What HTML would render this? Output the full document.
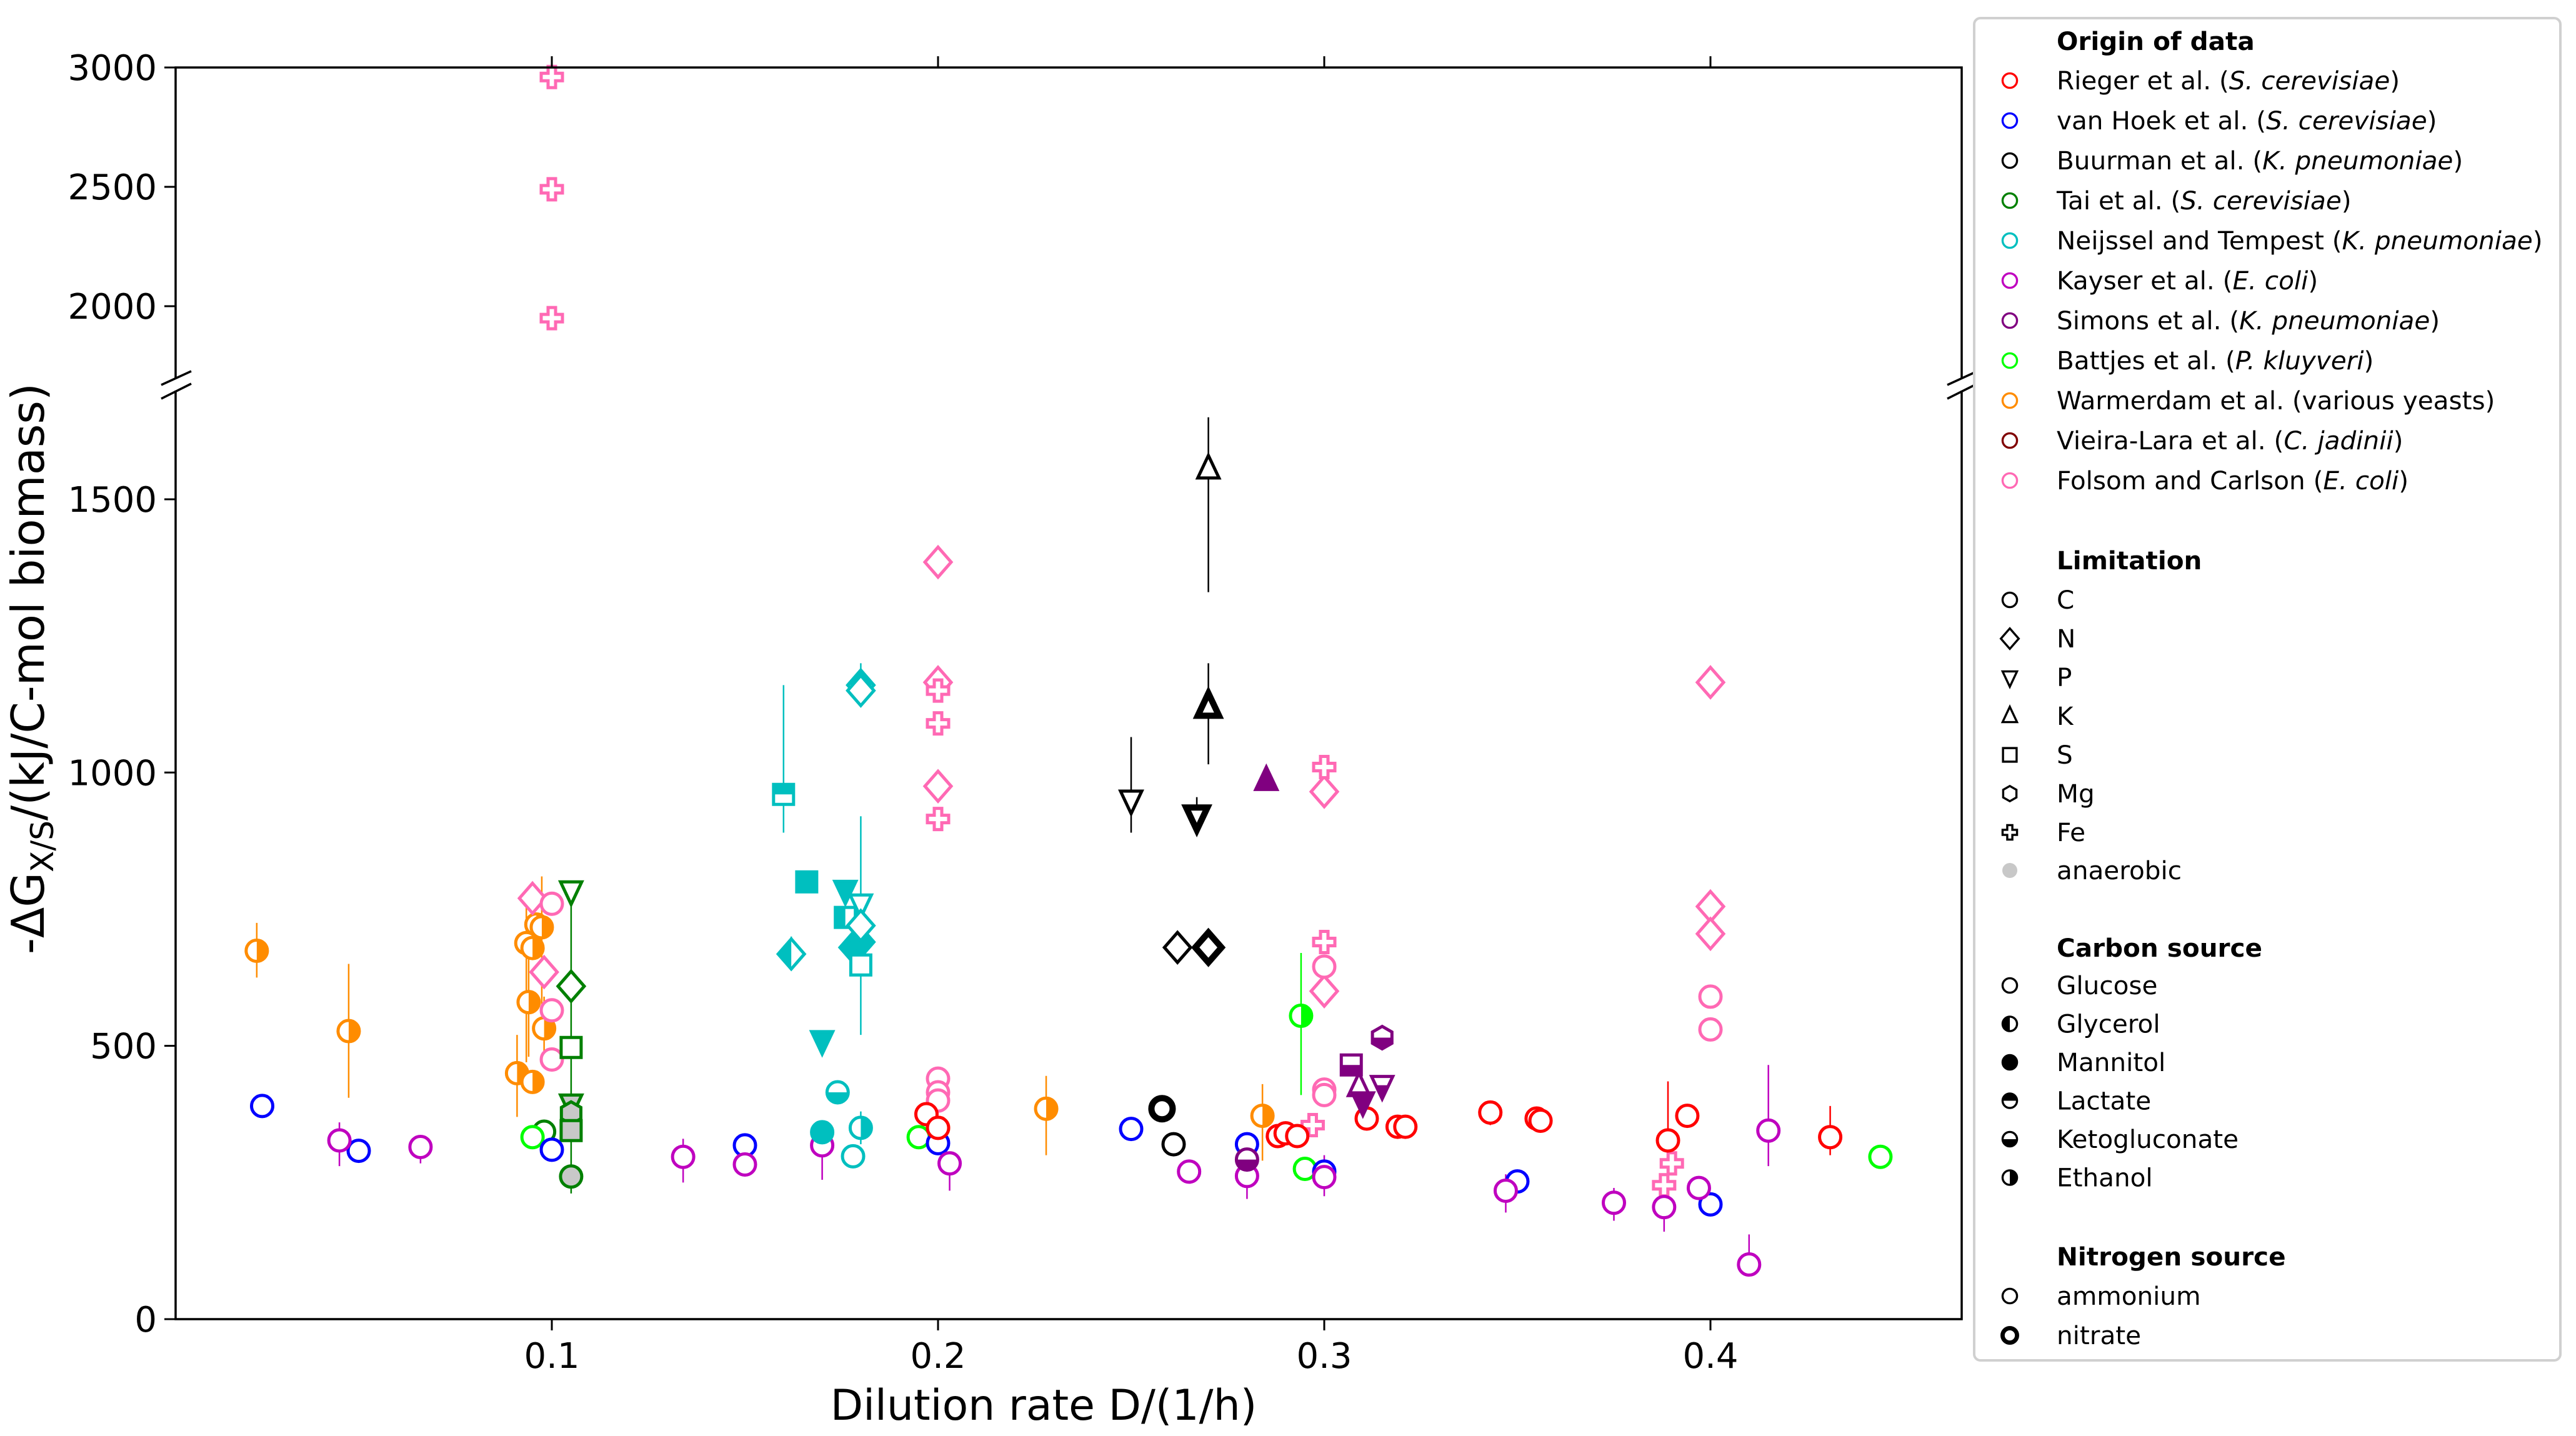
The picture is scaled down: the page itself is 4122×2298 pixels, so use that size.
<!DOCTYPE html>
<html><head><meta charset="utf-8">
<style>
html,body{margin:0;padding:0;background:#fff;}
svg{display:block;font-family:"DejaVu Sans","Liberation Sans",sans-serif;}
</style></head>
<body>
<svg id="chart" width="4122" height="2298" viewBox="0 0 4122 2298" xmlns="http://www.w3.org/2000/svg">
<rect width="4122" height="2298" fill="#fff"/>
<g id="plot"></g>
<g id="axes"></g>
<g id="legend"></g>
</svg>
<script>
// ---------- data ----------
const seriesNames = ["Rieger et al. (S. cerevisiae)","van Hoek et al. (S. cerevisiae)","Buurman et al. (K. pneumoniae)","Tai et al. (S. cerevisiae)","Neijssel and Tempest (K. pneumoniae)","Kayser et al. (E. coli)","Simons et al. (K. pneumoniae)","Battjes et al. (P. kluyveri)","Warmerdam et al. (various yeasts)","Vieira-Lara et al. (C. jadinii)","Folsom and Carlson (E. coli)"];
const seriesColors = ["#ff0000","#0000ff","#000000","#008000","#00bfbf","#bf00bf","#800080","#00ff00","#ff8c00","#800000","#ff69b4"];
const xTicks = [0.1,0.2,0.3,0.4];
const yTicksLower = [0,500,1000,1500];
const yTicksUpper = [2000,2500,3000];
// per point arrays
const pointD = [
 .0236,.0474,.096,.0974,.0934,.095,.094,.098,.091,.095,.228,.284,.2,
 .095,.098,.2,.2,.2,.3,.3,.4,.4,.4,
 .1,.1,.1,.2,.2,.2,.3,.3,.3,.4,.4,
 .1,.1,.1,.2,.2,.2,.3,.3,.297,.39,.388,
 .105,.105,.105,.105,.105,.105,.105,.098,
 .095,.195,.295,.294,.444,
 .025,.05,.1,.15,.2,.25,.28,.3,.35,.4,
 .045,.066,.134,.15,.17,.203,.265,.28,.3,.347,.375,.388,.397,.41,.415,
 .197,.2,.288,.29,.293,.311,.319,.321,.343,.355,.356,.389,.394,.431,
 .25,.267,.27,.27,.262,.27,.258,.261,
 .285,.28,.307,.315,.309,.31,.315,
 .16,.166,.176,.18,.176,.162,.178,.18,.18,.18,.17,.18,.18,.174,.17,.18,.178];
const pointG = [
 674,527,722,717,688,679,580,532,450,434,385,372,350,
 770,635,1385,1165,975,965,600,1165,755,705,
 760,565,475,440,415,400,645,420,410,590,530,
 2960,2490,1950,1150,1090,915,1010,690,355,285,245,
 784,609,497,394,377,345,261,343,
 333,333,275,555,297,
 390,308,310,318,322,348,320,270,252,210,
 327,315,297,283,318,285,270,262,260,235,213,205,240,100,345,
 375,350,335,340,335,367,352,352,378,367,363,327,372,333,
 950,920,1555,1120,680,680,385,320,
 985,292,465,515,425,398,428,
 960,800,785,760,735,668,680,690,720,648,510,1160,1150,415,342,350,298];
const pointErrLo = [
 625,405,0,560,470,0,480,470,370,0,300,290,0,
 0,0,0,0,0,0,0,0,0,0,
 0,0,0,0,0,0,0,0,0,0,0,
 0,0,0,0,0,0,0,0,0,0,0,
 230,0,0,0,0,0,0,0,
 0,0,0,410,0,
 0,0,0,0,0,0,0,0,0,0,
 280,285,250,265,255,235,0,220,225,195,180,160,0,100,280,
 0,0,0,0,0,0,0,0,355,0,0,300,0,300,
 890,920,1330,1015,0,0,0,0,
 0,0,0,0,0,0,0,
 890,0,0,0,0,640,0,0,0,520,0,1140,0,0,300,320,0];
const pointErrHi = [
 725,650,0,810,760,0,710,590,520,0,445,430,0,
 0,0,0,0,0,0,0,0,0,0,
 0,0,0,0,0,0,0,0,0,0,0,
 0,0,0,0,0,0,0,0,0,0,0,
 800,0,0,0,0,0,0,0,
 0,0,0,670,0,
 0,0,0,0,0,0,0,0,0,0,
 360,335,330,300,350,300,0,300,300,265,240,240,0,155,465,
 0,0,0,0,0,0,0,0,380,0,0,435,0,390,
 1065,955,1650,1200,0,0,0,0,
 0,0,0,0,0,0,0,
 1160,0,0,0,0,700,0,0,0,920,0,1200,0,0,360,380,0];
const pointSeries = [
 8,8,8,8,8,8,8,8,8,8,8,8,8,
 10,10,10,10,10,10,10,10,10,10,
 10,10,10,10,10,10,10,10,10,10,10,
 10,10,10,10,10,10,10,10,10,10,10,
 3,3,3,3,3,3,3,3,
 7,7,7,7,7,
 1,1,1,1,1,1,1,1,1,1,
 5,5,5,5,5,5,5,5,5,5,5,5,5,5,5,
 0,0,0,0,0,0,0,0,0,0,0,0,0,0,
 2,2,2,2,2,2,2,2,
 6,6,6,6,6,6,6,
 4,4,4,4,4,4,4,4,4,4,4,4,4,4,4,4,4];
const pointShape = [
 "o","o","o","o","o","o","o","o","o","o","o","o","o",
 "D","D","D","D","D","D","D","D","D","D",
 "o","o","o","o","o","o","o","o","o","o","o",
 "P","P","P","P","P","P","P","P","P","P","P",
 "v","D","s","v","h","s","o","o",
 "o","o","o","o","o",
 "o","o","o","o","o","o","o","o","o","o",
 "o","o","o","o","o","o","o","o","o","o","o","o","o","o","o",
 "o","o","o","o","o","o","o","o","o","o","o","o","o","o",
 "v","v","^","^","D","D","o","o",
 "^","o","s","h","^","v","v",
 "s","s","v","v","s","D","D","D","D","s","v","D","D","o","o","o","o"];
const pointFill = [
 "right","right","right","right","none","right","right","right","right","right","right","right","none",
 "none","none","none","none","none","none","none","none","none","none",
 "none","none","none","none","none","none","none","none","none","none","none",
 "none","none","none","none","none","none","none","none","none","none","none",
 "none","none","none","gray","gray","gray","gray","none",
 "none","none","none","right","none",
 "none","none","none","none","none","none","none","none","none","none",
 "none","none","none","none","none","none","none","none","none","none","none","none","none","none","none",
 "none","none","none","none","none","none","none","none","none","none","none","none","none","none",
 "none","none","none","none","none","none","none","none",
 "full","bottom","bottom","bottom","none","full","bottom",
 "top","full","full","none","left","left","full","full","none","none","full","top","none","bottom","full","right","none"];
const pointBold = [
 0,0,0,0,0,0,0,0,0,0,0,0,0,
 0,0,0,0,0,0,0,0,0,0,
 0,0,0,0,0,0,0,0,0,0,0,
 0,0,0,0,0,0,0,0,0,0,0,
 0,0,0,0,0,0,0,0,
 0,0,0,0,0,
 0,0,0,0,0,0,0,0,0,0,
 0,0,0,0,0,0,0,0,0,0,0,0,0,0,0,
 0,0,0,0,0,0,0,0,0,0,0,0,0,0,
 0,1,0,1,0,1,1,0,
 0,0,0,0,0,0,0,
 0,0,0,0,0,0,0,0,0,0,0,0,0,0,0,0,0];

// ---------- geometry ----------
const NS="http://www.w3.org/2000/svg";
const X0=265, XPER=6180;
const L_LEFT=281, L_RIGHT=3139;
const Y_BOT=2111, LOWER_K=0.8747;
const Y_TOP=108, UPPER_K=0.382;
function xS(d){return X0+d*XPER;}
function yS(g){return g>=1800 ? Y_TOP+(3000-g)*UPPER_K : Y_BOT-g*LOWER_K;}
function mk(tag,attrs,parent){const e=document.createElementNS(NS,tag);for(const k in attrs)e.setAttribute(k,attrs[k]);if(parent)parent.appendChild(e);return e;}

function shapePath(s,x,y,k){
  k=k||1;
  if(s==="o"){const r=17*k;return `M${x-r},${y} a${r},${r} 0 1,0 ${2*r},0 a${r},${r} 0 1,0 ${-2*r},0 Z`;}
  if(s==="D"){const w=21*k,h=24*k;return `M${x},${y-h} L${x+w},${y} L${x},${y+h} L${x-w},${y} Z`;}
  if(s==="v"){const w=17*k;return `M${x-w},${y-14*k} L${x+w},${y-14*k} L${x},${y+22*k} Z`;}
  if(s==="^"){const w=17*k;return `M${x-w},${y+14*k} L${x+w},${y+14*k} L${x},${y-22*k} Z`;}
  if(s==="s"){const h=16*k;return `M${x-h},${y-h} L${x+h},${y-h} L${x+h},${y+h} L${x-h},${y+h} Z`;}
  if(s==="h"){const r=18*k;let d="";for(let i=0;i<6;i++){const a=Math.PI/180*(90+60*i);d+=(i?"L":"M")+(x+r*Math.cos(a)).toFixed(1)+","+(y-r*Math.sin(a)).toFixed(1);}return d+"Z";}
  if(s==="P"){const a=6*k,b=17*k;return `M${x-a},${y-b} L${x+a},${y-b} L${x+a},${y-a} L${x+b},${y-a} L${x+b},${y+a} L${x+a},${y+a} L${x+a},${y+b} L${x-a},${y+b} L${x-a},${y+a} L${x-b},${y+a} L${x-b},${y-a} L${x-a},${y-a} Z`;}
}
let clipId=0;
function drawMarker(parent,s,x,y,color,fill,bold,k,name){
  k=k||1;
  const g=mk("g",{},parent);
  
  
  const d=shapePath(s,x,y,k);
  const sw=(bold?10:5)*k;
  if(fill==="gray"){mk("path",{d:d,fill:"#c8c8c8",stroke:color,"stroke-width":sw},g);return;}
  if(fill==="full"){mk("path",{d:d,fill:color,stroke:color,"stroke-width":sw},g);return;}
  mk("path",{d:d,fill:"#fff",stroke:"none"},g);
  if(fill!=="none"){
    const id="c"+(clipId++);
    const cp=mk("clipPath",{id:id},g);
    const R=40*k;let r;
    if(fill==="left")r={x:x-R,y:y-R,width:R,height:2*R};
    if(fill==="right")r={x:x,y:y-R,width:R,height:2*R};
    if(fill==="top")r={x:x-R,y:y-R,width:2*R,height:R};
    if(fill==="bottom")r={x:x-R,y:y,width:2*R,height:R};
    mk("rect",r,cp);
    mk("path",{d:d,fill:color,"clip-path":`url(#${id})`},g);
  }
  mk("path",{d:d,fill:"none",stroke:color,"stroke-width":sw},g);
}

// ---------- plot ----------
const plot=document.getElementById("plot");
for(let i=0;i<pointD.length;i++){
  if(pointErrHi[i]>0){
    const l=mk("line",{x1:xS(pointD[i]),x2:xS(pointD[i]),y1:yS(pointErrLo[i]),y2:yS(pointErrHi[i]),stroke:seriesColors[pointSeries[i]],"stroke-width":2.5},plot);
    
    
  }
}
for(let i=0;i<pointD.length;i++){
  drawMarker(plot,pointShape[i],xS(pointD[i]),yS(pointG[i]),seriesColors[pointSeries[i]],pointFill[i],pointBold[i],1,"data-point");
}

// ---------- axes ----------
const ax=document.getElementById("axes");
const st={stroke:"#000","stroke-width":3.5,fill:"none"};
mk("path",Object.assign({d:`M${L_LEFT},605 L${L_LEFT},${Y_TOP} L${L_RIGHT},${Y_TOP} L${L_RIGHT},605`},st),ax);
mk("path",Object.assign({d:`M${L_LEFT},625 L${L_LEFT},${Y_BOT} L${L_RIGHT},${Y_BOT} L${L_RIGHT},625`},st),ax);
for(const bx of [L_LEFT,L_RIGHT]){
  mk("line",{x1:bx-23,y1:616,x2:bx+25,y2:594,stroke:"#000","stroke-width":3.5},ax);
  mk("line",{x1:bx-23,y1:638,x2:bx+25,y2:614,stroke:"#000","stroke-width":3.5},ax);
}
const FS=56;
for(const t of xTicks){
  const x=xS(t);
  mk("line",{x1:x,x2:x,y1:Y_BOT,y2:Y_BOT+18,stroke:"#000","stroke-width":3},ax);
  mk("line",{x1:x,x2:x,y1:Y_TOP,y2:Y_TOP-18,stroke:"#000","stroke-width":3},ax);
  const tx=mk("text",{x:x,y:Y_BOT+78,"font-size":FS,"text-anchor":"middle"},ax);
  tx.textContent=String(t);
  
  
}
for(const t of yTicksLower.concat(yTicksUpper)){
  const y=yS(t);
  mk("line",{x1:L_LEFT,x2:L_LEFT-18,y1:y,y2:y,stroke:"#000","stroke-width":3},ax);
  const tx=mk("text",{x:L_LEFT-30,y:y+20,"font-size":FS,"text-anchor":"end"},ax);
  tx.textContent=String(t);
  
  
}
</script>
<script>
(function(){
const ax=document.getElementById("axes");
const NS="http://www.w3.org/2000/svg";
const xl=document.createElementNS(NS,"text");
xl.setAttribute("x","1670");xl.setAttribute("y","2272");xl.setAttribute("font-size","68");xl.setAttribute("text-anchor","middle");
xl.textContent="Dilution rate D/(1/h)";


ax.appendChild(xl);
const yl=document.createElementNS(NS,"text");
yl.setAttribute("transform","translate(70,1070) rotate(-90)");yl.setAttribute("font-size","72");yl.setAttribute("text-anchor","middle");
yl.innerHTML='-ΔG<tspan font-size="50" dy="15">X/S</tspan><tspan dy="-15">/(kJ/C-mol biomass)</tspan>';


ax.appendChild(yl);
})();
</script>
<script>
(function(){
const lg=document.getElementById("legend");
const NS="http://www.w3.org/2000/svg";
function mk(tag,attrs,parent){const e=document.createElementNS(NS,tag);for(const k in attrs)e.setAttribute(k,attrs[k]);parent.appendChild(e);return e;}
mk("rect",{x:3159,y:29,width:938,height:2148,rx:10,fill:"#fff",stroke:"#d0d0d0","stroke-width":4},lg);
const TX=3291, MX=3216, F=40.5;
function txt(y,html,bold,name){const t=mk("text",{x:TX,y:y+14,"font-size":F,"font-weight":bold?"bold":"normal"},lg);t.innerHTML=html;return t;}
txt(66,"Origin of data",true,"legend-title-origin");
const labels=['Rieger et al. (<tspan font-style="italic">S. cerevisiae</tspan>)','van Hoek et al. (<tspan font-style="italic">S. cerevisiae</tspan>)','Buurman et al. (<tspan font-style="italic">K. pneumoniae</tspan>)','Tai et al. (<tspan font-style="italic">S. cerevisiae</tspan>)','Neijssel and Tempest (<tspan font-style="italic">K. pneumoniae</tspan>)','Kayser et al. (<tspan font-style="italic">E. coli</tspan>)','Simons et al. (<tspan font-style="italic">K. pneumoniae</tspan>)','Battjes et al. (<tspan font-style="italic">P. kluyveri</tspan>)','Warmerdam et al. (various yeasts)','Vieira-Lara et al. (<tspan font-style="italic">C. jadinii</tspan>)','Folsom and Carlson (<tspan font-style="italic">E. coli</tspan>)'];
for(let i=0;i<labels.length;i++){
  const y=129+64*i;
  drawMarker(lg,"o",MX,y,seriesColors[i],"none",0,0.68,"legend-marker");
  txt(y,labels[i],false,"legend-entry");
}
txt(897,"Limitation",true,"legend-title-limitation");
const lim=[["o","C"],["D","N"],["v","P"],["^","K"],["s","S"],["h","Mg"],["P","Fe"]];
lim.forEach((r,i)=>{const y=960+62*i;drawMarker(lg,r[0],MX,y,"#000","none",0,0.68,"legend-marker");txt(y,r[1],false,"legend-entry");});
const an=mk("circle",{cx:MX,cy:1393,r:12,fill:"#c8c8c8"},lg);
txt(1393,"anaerobic",false,"legend-entry");
txt(1517,"Carbon source",true,"legend-title-carbon");
const cs=[["none","Glucose"],["left","Glycerol"],["full","Mannitol"],["top","Lactate"],["bottom","Ketogluconate"],["right","Ethanol"]];
cs.forEach((r,i)=>{const y=1577+61.5*i;drawMarker(lg,"o",MX,y,"#000",r[0],0,0.68,"legend-marker");txt(y,r[1],false,"legend-entry");});
txt(2011,"Nitrogen source",true,"legend-title-nitrogen");
drawMarker(lg,"o",MX,2074,"#000","none",0,0.68,"legend-marker");txt(2074,"ammonium",false,"legend-entry");
drawMarker(lg,"o",MX,2137,"#000","none",1,0.68,"legend-marker");txt(2137,"nitrate",false,"legend-entry");
})();
</script>
</body></html>
